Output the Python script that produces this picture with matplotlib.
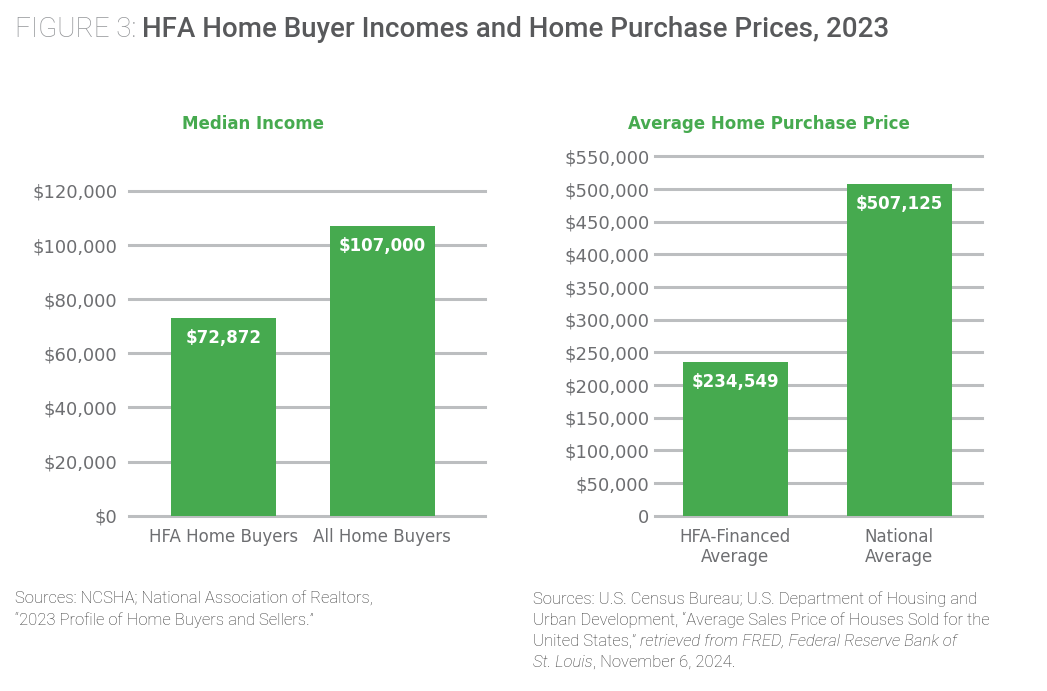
import numpy as np
import matplotlib.pyplot as plt
from matplotlib.text import Annotation

# data
income_labels = ['HFA Home Buyers', 'All Home Buyers']
income_values = [72872, 107000]
income_ticks = np.arange(0, 120001, 20000)

price_labels = ['HFA-Financed\nAverage', 'National\nAverage']
price_values = [234549, 507125]
price_ticks = np.arange(0, 550001, 50000)

GREEN = '#46AA4F'
GRID = '#BCBEC0'
GRAY = '#6D6E71'
plt.rcParams['font.family'] = ['DejaVu Sans']

fig = plt.figure(figsize=(10.47, 6.91), dpi=100)
ax1 = fig.add_axes([0.1232, 0.2537, 0.340, 0.470])
ax2 = fig.add_axes([0.6256, 0.2537, 0.312, 0.520])


def style_axes(ax, ticks, ticklabels, pad):
    ax.set_ylim(0, ticks[-1])
    ax.set_yticks(ticks)
    ax.set_yticklabels(ticklabels)
    for s in ax.spines.values():
        s.set_visible(False)
    ax.tick_params(length=0, labelsize=13, labelcolor=GRAY)
    ax.tick_params(axis='y', pad=pad)
    ax.tick_params(axis='x', pad=9, labelsize=12)
    ax.grid(axis='y', color=GRID, linewidth=2.2)
    ax.set_axisbelow(True)
    for ln in ax.get_ygridlines():
        ln.set_clip_on(False)


def draw_bars(ax, labels, values, width):
    x = np.arange(len(values))
    ax.bar(x, values, width=width, color=GREEN)
    ax.set_xticks(x)
    ax.set_xticklabels(labels, linespacing=1.15)
    for i, v in enumerate(values):
        ax.annotate('${:,}'.format(v), xy=(i, v), xytext=(0, -14),
                    textcoords='offset points', ha='center', va='center',
                    color='white', fontsize=12, fontweight='bold')


draw_bars(ax1, income_labels, income_values, 0.66)
style_axes(ax1, income_ticks, ['${:,}'.format(t) for t in income_ticks], 8.5)
ax1.set_xlim(-0.594, 1.645)

draw_bars(ax2, price_labels, price_values, 0.64)
style_axes(ax2, price_ticks,
           ['0' if t == 0 else '${:,}'.format(t) for t in price_ticks], 4)
ax2.set_xlim(-0.489, 1.502)

fig.text(253 / 1047, 1 - 124 / 691, 'Median Income', color=GREEN,
         fontsize=12, fontweight='bold', ha='center', va='center')
fig.text(769 / 1047, 1 - 124 / 691, 'Average Home Purchase Price', color=GREEN,
         fontsize=12, fontweight='bold', ha='center', va='center')

# title: light "FIGURE 3:" followed by the heavier title text
t1 = fig.text(15 / 1047, 1 - 37 / 691, 'FIGURE 3:', color='#939598',
              fontsize=20, family=['Roboto', 'DejaVu Sans'], fontweight='light',
              va='baseline')
fig.add_artist(Annotation('HFA Home Buyer Incomes and Home Purchase Prices, 2023',
                          xy=(1, 0), xycoords=t1, xytext=(4, 0),
                          textcoords='offset points', va='bottom',
                          color='#58595B', fontsize=20,
                          family=['Roboto', 'DejaVu Sans'], fontweight='medium'))


def source_line(x, y, parts):
    prev = None
    for txt, italic, gap in parts:
        kw = dict(color='#333333', fontsize=12, family=['Roboto', 'DejaVu Sans'],
                  fontweight='light', style='italic' if italic else 'normal')
        if prev is None:
            prev = fig.text(x / 1047, 1 - y / 691, txt, va='baseline', **kw)
        else:
            prev = fig.add_artist(Annotation(txt, xy=(1, 0), xycoords=prev,
                                             xytext=(gap, 0),
                                             textcoords='offset points',
                                             va='bottom', **kw))


source_line(15, 604, [('Sources: NCSHA; National Association of Realtors,', False, 0)])
source_line(15, 625, [('\u201c2023 Profile of Home Buyers and Sellers.\u201d', False, 0)])

source_line(533, 604, [('Sources: U.S. Census Bureau; U.S. Department of Housing and', False, 0)])
source_line(533, 625, [('Urban Development, \u201cAverage Sales Price of Houses Sold for the', False, 0)])
source_line(533, 646, [('United States,\u201d', False, 0),
                       ('retrieved from FRED, Federal Reserve Bank of', True, 3)])
source_line(533, 667, [('St. Louis', True, 0), (', November 6, 2024.', False, 0)])

fig.savefig('out.png', dpi=100)
